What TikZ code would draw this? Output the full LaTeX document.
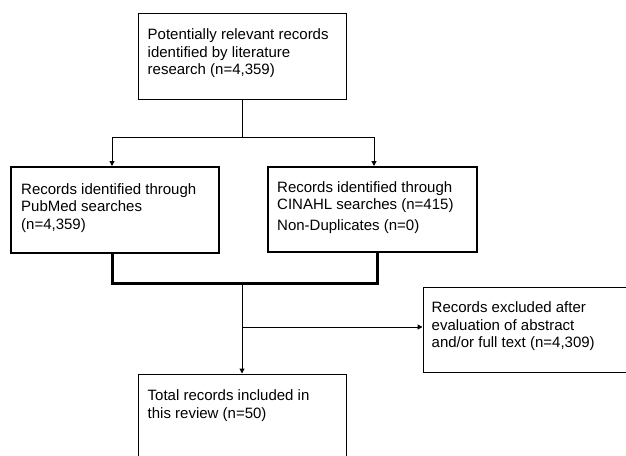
\documentclass[tikz,border=0pt]{standalone}
\usepackage{fontspec}
\setmainfont{Liberation Sans}
\usetikzlibrary{arrows.meta}
\tikzset{
  box/.style={draw, line width=1pt, inner sep=0pt, minimum width=208pt, minimum height=86pt},
  boldbox/.style={box, line width=2pt},
  txt/.style={anchor=north west, inner sep=0pt, align=left, font=\fontsize{15}{17.5}\selectfont},
  line/.style={line width=1pt},
  arrow/.style={line width=1pt, -{Triangle[length=5pt,width=5pt]}},
  bracket/.style={line width=3pt},
}
\begin{document}
\begin{tikzpicture}[x=1pt,y=-1pt]
\useasboundingbox (0,0) rectangle (626,455);
\clip (0,0) rectangle (626,455);
\node[box] (top) at (242,56) {};
\node[boldbox] (pub) at (115,210) {};
\node[boldbox, minimum width=209pt, minimum height=85pt] (cin) at (372.5,209.5) {};
\node[box, minimum width=207pt, minimum height=85pt] (excl) at (526.5,329.5) {};
\node[box] (total) at (242,417) {};
\node[txt] (toptxt) at ([xshift=10pt,yshift=-16pt]top.north west) {Potentially relevant records\\identified by literature\\research (n=4,359)};
\node[txt] (pubtxt) at ([xshift=11pt,yshift=-17pt]pub.north west) {Records identified through\\PubMed searches\\(n=4,359)};
\node[txt] (cintxt) at ([xshift=10pt,yshift=-15pt]cin.north west) {Records identified through\\CINAHL searches (n=415)\\[3.5pt]Non-Duplicates (n=0)};
\node[txt] (excltxt) at ([xshift=9pt,yshift=-15pt]excl.north west) {Records excluded after\\evaluation of abstract\\and/or full text (n=4,309)};
\node[txt] (totaltxt) at ([xshift=10pt,yshift=-16pt]total.north west) {Total records included in\\this review (n=50)};
\draw[line] (top.south) -- (top.south |- 0,137) coordinate (split);
\draw[arrow] (split) -| ([xshift=-3pt]pub.north);
\draw[arrow] (split) -| ([xshift=1.5pt]cin.north);
\coordinate (merge) at (242,283);
\draw[bracket] ([xshift=-3pt]pub.south) |- (merge) -| ([xshift=4.5pt]cin.south);
\draw[arrow] (merge) -- (total.north);
\coordinate (branch) at (242,327);
\draw[arrow] (branch) -- (branch -| excl.west);
\end{tikzpicture}
\end{document}
